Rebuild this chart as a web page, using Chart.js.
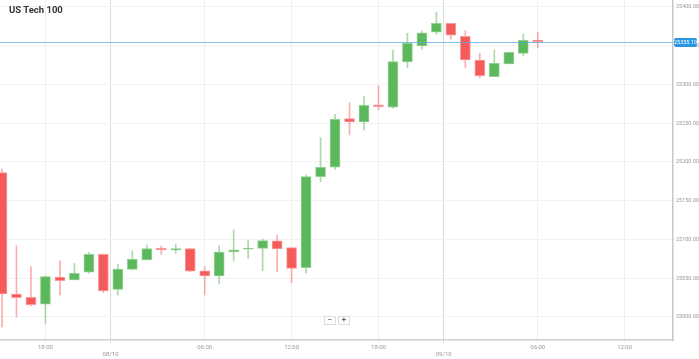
<!DOCTYPE html>
<html>
<head>
<meta charset="utf-8">
<script src="https://cdn.jsdelivr.net/npm/chart.js@4.4.0/dist/chart.umd.min.js"></script>
<style>
  body { margin: 0; background: #fff; }
  #wrap { position: relative; width: 699px; height: 359px; }
  #title { position: absolute; left: 9px; top: 4px; font: bold 9.5px Roboto, sans-serif; color: #333; }
  #zoom { position: absolute; left: 324px; top: 316px; display: flex; gap: 2px; }
  #zoom span { width: 10px; height: 7px; border: 1px solid #ddd; background: #fff; font: bold 7px Roboto, sans-serif; color: #555; text-align: center; line-height: 7px; }
</style>
</head>
<body>
<div id="wrap">
  <canvas id="chart"></canvas>
  <div id="title">US Tech 100</div>
  <div id="zoom"><span>−</span><span>+</span></div>
</div>
<script>
// hourly candles, 07/10 15:00 -> 09/10 06:00 (23:00 hour closed)
const opens  = [25186.2, 25029.7, 25025.4, 25016.4, 25051.6, 25047.7, 25057.7, 25080.9,
                25035.7, 25061.5, 25073.6, 25089.0, 25086.5, 25088.1, 25059.7, 25052.9,
                25083.9, 25087.4, 25088.6, 25098.1, 25089.4, 25063.6, 25181.0, 25193.2,
                25255.9, 25251.6, 25273.6, 25270.6, 25329.0, 25349.7, 25367.4,
                25379.0, 25362.2, 25331.6, 25310.1, 25326.5, 25340.2, 25357.4];
const highs  = [25190.9, 25092.0, 25064.9, 25052.9, 25072.3, 25069.3, 25083.5, 25081.3,
                25068.0, 25085.6, 25092.9, 25091.6, 25094.2, 25089.0, 25064.9, 25092.0,
                25112.3, 25098.1, 25100.6, 25105.8, 25089.4, 25183.2, 25231.3, 25261.5,
                25276.5, 25284.3, 25298.0, 25344.5, 25366.1, 25369.0, 25393.2,
                25379.0, 25369.4, 25340.2, 25344.5, 25341.5, 25365.2, 25367.4];
const lows   = [24987.1, 25000.0, 25014.6, 24991.9, 25028.4, 25047.7, 25056.4, 25031.4,
                25028.4, 25060.6, 25073.6, 25080.9, 25082.2, 25058.5, 25028.4, 25042.6,
                25072.3, 25075.7, 25059.7, 25058.5, 25044.3, 25056.4, 25174.6, 25190.6,
                25234.9, 25241.3, 25267.1, 25269.3, 25321.7, 25345.4, 25364.8,
                25358.3, 25321.7, 25308.8, 25310.1, 25326.5, 25337.2, 25347.5];
const closes = [25029.7, 25024.9, 25015.9, 25052.0, 25046.8, 25056.4, 25080.9, 25033.5,
                25061.9, 25074.5, 25088.1, 25086.5, 25088.1, 25059.0, 25052.9, 25083.9,
                25086.8, 25088.6, 25098.5, 25087.8, 25062.8, 25181.0, 25193.2, 25255.1,
                25251.6, 25273.2, 25271.4, 25329.4, 25353.2, 25366.8, 25379.0,
                25363.5, 25331.6, 25311.0, 25327.4, 25341.5, 25357.0, 25355.1];

const xTickSlots  = [3, 7.5, 14, 20, 26, 30.5, 37, 43];
const xTickLabels = ['18:00', '08/10', '06:00', '12:00', '18:00', '09/10', '06:00', '12:00'];
const dayTicks = ['08/10', '09/10'];
const yTicks = [25000, 25050, 25100, 25150, 25200, 25250, 25300, 25350, 25400];

const RED = '#f65b5b', RED_EDGE = '#f99a9a', RED_WICK = 'rgba(244,110,110,0.55)';
const GREEN = '#5cb85c', GREEN_EDGE = '#92d092', GREEN_WICK = 'rgba(100,185,100,0.55)';

const up = closes.map((c, i) => c >= opens[i]);
const wicks = highs.map((h, i) => ({ x: i, y: [lows[i], h] }));
const bodies = opens.map((o, i) => ({ x: i, y: [o, closes[i]] }));

const priceLine = {
    id: 'priceLine',
    afterDatasetsDraw(chart) {
        const { ctx, chartArea, scales } = chart;
        const last = closes[closes.length - 1];
        const y = Math.round(scales.y.getPixelForValue(last)) + 0.5;
        ctx.save();
        ctx.strokeStyle = 'rgba(90,170,225,0.75)';
        ctx.lineWidth = 1.2;
        ctx.beginPath();
        ctx.moveTo(chartArea.left, y);
        ctx.lineTo(chartArea.right, y);
        ctx.stroke();
        ctx.fillStyle = '#2a96e0';
        const bx = chartArea.right + 1, bw = chart.width - bx - 2;
        ctx.beginPath();
        ctx.roundRect(bx, y - 4.5, bw, 9, 2);
        ctx.fill();
        ctx.fillStyle = '#fff';
        ctx.font = '5.5px Roboto, sans-serif';
        ctx.textAlign = 'center';
        ctx.textBaseline = 'middle';
        ctx.fillText(last.toFixed(2), bx + bw / 2, y);
        ctx.restore();
    }
};

new Chart(document.getElementById('chart'), {
    type: 'bar',
    data: {
        datasets: [
            {
                data: wicks,
                backgroundColor: up.map(u => (u ? GREEN_WICK : RED_WICK)),
                barThickness: 1,
                grouped: false,
                order: 2,
            },
            {
                data: bodies,
                backgroundColor: up.map(u => (u ? GREEN : RED)),
                borderColor: up.map(u => (u ? GREEN_EDGE : RED_EDGE)),
                borderWidth: 1,
                borderSkipped: false,
                barThickness: 10,
                grouped: false,
                order: 1,
            },
        ],
    },
    options: {
        responsive: true,
        maintainAspectRatio: false,
        animation: false,
        layout: { padding: 0 },
        plugins: { legend: { display: false }, tooltip: { enabled: false } },
        scales: {
            x: {
                type: 'linear',
                min: -0.138,
                max: 46.34,
                offset: false,
                afterBuildTicks: (axis) => {
                    axis.ticks = xTickSlots.map((v) => ({ value: v }));
                },
                afterFit: (axis) => { axis.height = 19; axis.paddingLeft = 0; axis.paddingRight = 0; },
                ticks: {
                    autoSkip: false,
                    maxRotation: 0,
                    padding: 1,
                    color: '#999',
                    font: { size: 6, family: 'Roboto' },
                    callback: (v) => {
                        const lab = xTickLabels[xTickSlots.indexOf(v)];
                        return dayTicks.includes(lab) ? ['', lab] : lab;
                    },
                },
                grid: {
                    offset: false,
                    tickLength: 3,
                    color: (c) => (c.tick && dayTicks.includes(xTickLabels[xTickSlots.indexOf(c.tick.value)]) ? '#dcdcdc' : '#f0f0f0'),
                },
                border: { color: '#cfcfcf', width: 1.5 },
            },
            y: {
                position: 'right',
                min: 24970.3,
                max: 25409,
                afterBuildTicks: (axis) => {
                    axis.ticks = yTicks.map((v) => ({ value: v }));
                },
                afterFit: (axis) => { axis.width = 26; axis.paddingTop = 0; axis.paddingBottom = 0; },
                ticks: {
                    padding: 1,
                    color: '#999',
                    font: { size: 5.5, family: 'Roboto' },
                    callback: (v) => v.toFixed(2),
                },
                grid: { color: '#f2f2f2', tickLength: 2 },
                border: { color: '#c8c8c8', width: 1.5 },
            },
        },
    },
    plugins: [priceLine],
});
</script>
</body>
</html>
